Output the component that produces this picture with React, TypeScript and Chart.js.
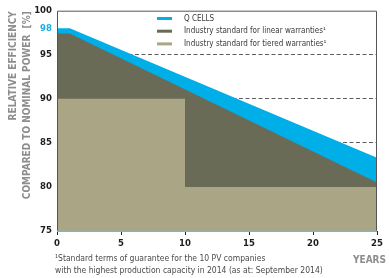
import React, { useEffect, useRef } from "react";
import { Chart, registerables } from "chart.js";

Chart.register(...registerables);

const seriesLabels = [
  "Q CELLS",
  "Industry standard for linear warranties¹",
  "Industry standard for tiered warranties¹",
];
const seriesColors = ["#00aee8", "#6a6b57", "#aaa685"];

const qcellsYears = [0, 1, 25];
const qcellsValues = [98, 98, 83.3];
const linearYears = [0, 1, 25];
const linearValues = [97.4, 97.4, 80.5];
const tieredYears = [0, 10, 10, 25];
const tieredValues = [90, 90, 80, 80];

const xTickValues = [0, 5, 10, 15, 20, 25];
const yTickValues = [75, 80, 85, 90, 95, 98, 100];
const dashedGridValues = [85, 90, 95];
const highlightTick = 98;

const yTitleLines = ["RELATIVE EFFICIENCY", "COMPARED TO NOMINAL POWER  [%]"];
const xTitle = "YEARS";
const footnoteLines = [
  "¹Standard terms of guarantee for the 10 PV companies",
  "with the highest production capacity in 2014 (as at: September 2014)",
];

const NARROW = "'Liberation Sans Narrow', 'DejaVu Sans Condensed', 'Liberation Sans', sans-serif";

function pts(xs: number[], ys: number[]) {
  return xs.map((x, i) => ({ x, y: ys[i] }));
}

const overlayPlugin = {
  id: "overlay",
  afterDatasetsDraw(chart: any) {
    const { ctx, chartArea } = chart;
    const { left, top, right, bottom } = chartArea;
    ctx.save();
    // frame (top/right/left)
    ctx.strokeStyle = "#555";
    ctx.lineWidth = 1;
    ctx.beginPath();
    ctx.moveTo(left + 0.5, bottom);
    ctx.lineTo(left + 0.5, top + 0.5);
    ctx.lineTo(right - 0.5, top + 0.5);
    ctx.lineTo(right - 0.5, bottom);
    ctx.stroke();
    // bottom axis line
    ctx.strokeStyle = "#86b4b6";
    ctx.lineWidth = 1.5;
    ctx.beginPath();
    ctx.moveTo(left, bottom + 0.25);
    ctx.lineTo(right, bottom + 0.25);
    ctx.stroke();

    // legend
    const lx = left + 100;
    const rows = [top + 7.8, top + 20.5, top + 33.2];
    ctx.font = `8px ${NARROW}`;
    ctx.textBaseline = "middle";
    ctx.textAlign = "left";
    seriesLabels.forEach((label, i) => {
      ctx.fillStyle = seriesColors[i];
      ctx.fillRect(lx, rows[i] - 1.5, 15, 3);
      ctx.fillStyle = "#3a3a3a";
      ctx.fillText(label, lx + 27, rows[i]);
    });

    // y title
    ctx.font = `bold 10px ${NARROW}`;
    ctx.fillStyle = "#8d8d8d";
    const tx = [13, 27];
    yTitleLines.forEach((line, i) => {
      ctx.save();
      ctx.translate(tx[i], top + 0.5);
      ctx.rotate(-Math.PI / 2);
      ctx.textAlign = "right";
      ctx.textBaseline = "middle";
      ctx.fillText(line, 0, 0);
      ctx.restore();
    });

    // x title
    ctx.font = `bold 10px ${NARROW}`;
    ctx.fillStyle = "#8d8d8d";
    ctx.textAlign = "right";
    ctx.textBaseline = "middle";
    ctx.fillText(xTitle, 386, bottom + 29);

    // footnote
    ctx.font = `8.5px ${NARROW}`;
    ctx.fillStyle = "#4a4a4a";
    ctx.textAlign = "left";
    footnoteLines.forEach((line, i) => {
      ctx.fillText(line, 55, bottom + 28 + i * 12);
    });
    ctx.restore();
  },
};

export default function App() {
  const canvasRef = useRef<HTMLCanvasElement | null>(null);

  useEffect(() => {
    document.body.style.margin = "0";
    const canvas = canvasRef.current;
    if (!canvas) return;
    const chart = new Chart(canvas, {
      type: "line",
      data: {
        datasets: [
          {
            label: seriesLabels[2],
            data: pts(tieredYears, tieredValues),
            backgroundColor: seriesColors[2],
            borderColor: seriesColors[2],
            borderWidth: 0,
            pointRadius: 0,
            fill: "start",
            tension: 0,
          },
          {
            label: seriesLabels[1],
            data: pts(linearYears, linearValues),
            backgroundColor: seriesColors[1],
            borderColor: seriesColors[1],
            borderWidth: 0,
            pointRadius: 0,
            fill: "start",
            tension: 0,
          },
          {
            label: seriesLabels[0],
            data: pts(qcellsYears, qcellsValues),
            backgroundColor: seriesColors[0],
            borderColor: seriesColors[0],
            borderWidth: 0,
            pointRadius: 0,
            fill: "start",
            tension: 0,
          },
        ],
      },
      options: {
        animation: false,
        responsive: false,
        maintainAspectRatio: false,
        layout: { padding: { left: 0, top: 9.5, right: 12, bottom: 0 } },
        plugins: {
          legend: { display: false },
          tooltip: { enabled: false },
        },
        scales: {
          x: {
            type: "linear",
            min: 0,
            max: 25,
            afterBuildTicks: (scale: any) => {
              scale.ticks = xTickValues.map((v) => ({ value: v }));
            },
            afterFit: (scale: any) => {
              scale.height = 47;
            },
            grid: {
              display: true,
              drawOnChartArea: false,
              drawTicks: true,
              tickLength: 4,
              color: "#222",
              lineWidth: 1,
            },
            border: { display: false },
            ticks: {
              padding: 3,
              color: "#1e1e1e",
              font: { family: NARROW, size: 9.5, weight: "bold" },
              maxRotation: 0,
            },
          },
          y: {
            type: "linear",
            min: 75,
            max: 100,
            afterBuildTicks: (scale: any) => {
              scale.ticks = yTickValues.map((v) => ({ value: v }));
            },
            afterFit: (scale: any) => {
              scale.width = 57;
            },
            grid: {
              display: true,
              drawTicks: false,
              color: (c: any) =>
                dashedGridValues.includes(c.tick?.value) ? "#5e5e5e" : "rgba(0,0,0,0)",
              lineWidth: 1,
            },
            border: { display: false, dash: [4, 2.5] },
            ticks: {
              padding: 5,
              color: (c: any) => (c.tick?.value === highlightTick ? "#19aee6" : "#1e1e1e"),
              font: { family: NARROW, size: 9.5, weight: "bold" },
            },
          },
        },
      },
      plugins: [overlayPlugin],
    } as any);
    return () => chart.destroy();
  }, []);

  return (
    <div style={{ width: 389, height: 278, background: "#fff" }}>
      <canvas ref={canvasRef} width={389} height={278} style={{ display: "block" }} />
    </div>
  );
}
